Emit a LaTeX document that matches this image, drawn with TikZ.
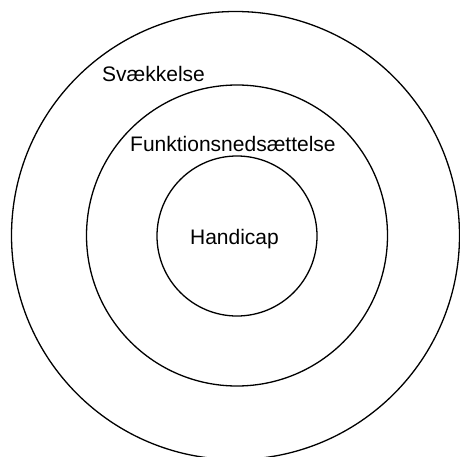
\documentclass[tikz,border=0pt]{standalone}
\usepackage{fontspec}
\setmainfont{Liberation Sans}
\begin{document}
\begin{tikzpicture}[x=1pt,y=-1pt,
  ring/.style={draw=black,line width=1.3pt},
  lbl/.style={font=\fontsize{21}{24}\selectfont,inner sep=0pt}]
\useasboundingbox (0,0) rectangle (460,457);
\begin{scope}
\clip (0,0) rectangle (460,457);
\draw[ring] (235.5,235.5) circle (224);
\end{scope}
\draw[ring] (237,235.5) circle (150.5);
\draw[ring] (237,236) circle (80);
\node[lbl,anchor=base west] (sv) at (102,82) {Svækkelse};
\node[lbl,anchor=base west] (fn) at (130,151.5) {Funktionsnedsættelse};
\node[lbl,anchor=base] (hc) at (234.5,244) {Handicap};
\end{tikzpicture}
\end{document}
